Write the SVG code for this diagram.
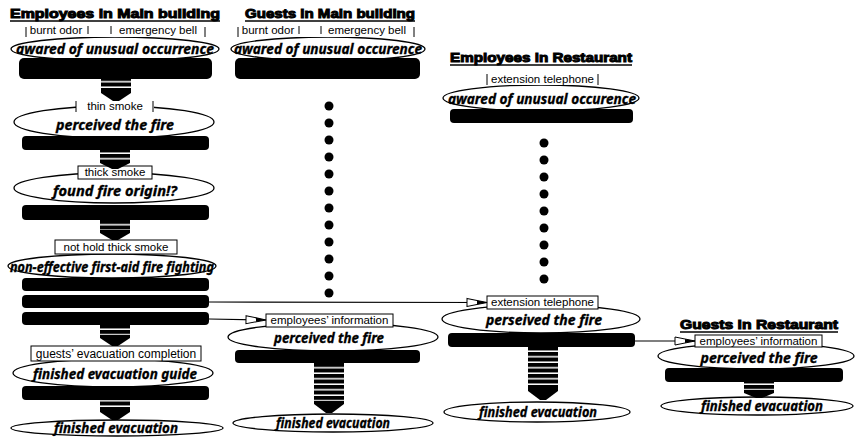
<svg xmlns="http://www.w3.org/2000/svg" width="856" height="438" viewBox="0 0 856 438">
<style>
.t{font-family:"Liberation Sans",Arial,sans-serif;font-weight:900;font-size:13px;fill:#000;stroke:#000;stroke-width:1}
.ul{stroke:#000;stroke-width:1.6}
.e{font-family:"Noto Sans","Open Sans",sans-serif;font-weight:700;font-style:italic;font-size:15px;text-anchor:middle;fill:#000;stroke:#000;stroke-width:0.35}
.l{font-family:"Liberation Sans",Arial,sans-serif;font-size:11.5px;text-anchor:middle;fill:#000}
.el{fill:#fff;stroke:#000;stroke-width:1.3}
.bar{fill:#000}
.box{fill:#fff;stroke:#000;stroke-width:1}
.wb{fill:#fff;stroke:none}
.mk{stroke:#000;stroke-width:1;fill:none}
.stem{fill:url(#stripes)}
.head{fill:#000}
.dot{fill:#000}
.conn{stroke:#000;stroke-width:1.2;fill:none;marker-end:url(#ah)}
</style>
<defs>
<pattern id="stripes" patternUnits="userSpaceOnUse" width="40" height="5.5">
<rect x="0" y="0" width="40" height="4" fill="#000"/>
</pattern>
<marker id="ah" markerUnits="userSpaceOnUse" markerWidth="22" markerHeight="10" refX="21" refY="5" orient="auto">
<path d="M1,1 L21,5 L1,9 Z" fill="#fff" stroke="#000" stroke-width="1"/>
<path d="M11,3 L21,5 L11,7 Z" fill="#000"/>
</marker>
</defs>
<rect width="856" height="438" fill="#fff"/>

<!-- Column 1: Employees in Main building -->
<g id="title-emp-main">
<text class="t" x="10" y="18" textLength="210" lengthAdjust="spacingAndGlyphs">Employees in Main building</text>
<line class="ul" x1="10" y1="21" x2="220" y2="21"/>
</g>
<g id="emp-main-aware">
<ellipse class="el" cx="115" cy="49" rx="104" ry="12"/>
<rect class="bar" x="19" y="58" width="193" height="21" rx="5"/>
<rect class="wb" x="24" y="26" width="180" height="11"/>
<text class="l" x="56" y="34">burnt odor</text>
<text class="l" x="158" y="34">emergency bell</text>
<path class="mk" d="M26,27 V37 M88,26 V34 M111,26 V34 M205,27 V37"/>
<text class="e" x="115" y="54" textLength="198" lengthAdjust="spacingAndGlyphs">awared of unusual occurrence</text>
</g>
<g id="emp-main-perceived">
<ellipse class="el" cx="114" cy="122" rx="100" ry="16"/>
<rect class="bar" x="22" y="136" width="187" height="14" rx="4"/>
<rect class="wb" x="76" y="100" width="78" height="12"/>
<path class="mk" d="M76,101 V112 M153,101 V112"/>
<text class="l" x="115" y="110">thin smoke</text>
<text class="e" x="115" y="130" textLength="118" lengthAdjust="spacingAndGlyphs">perceived the fire</text>
</g>
<g id="emp-main-origin">
<ellipse class="el" cx="114" cy="188" rx="100" ry="15"/>
<rect class="bar" x="22" y="205" width="187" height="15" rx="4"/>
<rect class="box" x="78" y="166" width="74" height="13"/>
<text class="l" x="115" y="176">thick smoke</text>
<text class="e" x="115" y="196" textLength="124" lengthAdjust="spacingAndGlyphs">found fire origin!?</text>
</g>
<g id="emp-main-firefight">
<ellipse class="el" cx="112" cy="266" rx="104" ry="12"/>
<rect class="box" x="55" y="240" width="122" height="14"/>
<text class="l" x="116" y="251">not hold thick smoke</text>
<text class="e" x="112" y="272" textLength="204" lengthAdjust="spacingAndGlyphs">non-effective first-aid fire fighting</text>
<rect class="bar" x="22" y="278" width="187" height="13" rx="4"/>
<rect class="bar" x="22" y="295" width="187" height="13" rx="4"/>
<rect class="bar" x="22" y="312" width="187" height="13" rx="4"/>
</g>
<g id="emp-main-guide">
<ellipse class="el" cx="113" cy="373" rx="100" ry="14"/>
<rect class="bar" x="22" y="386" width="187" height="14" rx="4"/>
<rect class="box" x="31" y="346" width="170" height="15"/>
<text class="l" x="116" y="358" style="font-size:12px">guests’ evacuation completion</text>
<text class="e" x="115" y="379" textLength="164" lengthAdjust="spacingAndGlyphs">finished evacuation guide</text>
</g>
<g id="emp-main-finished">
<ellipse class="el" cx="117" cy="428" rx="106" ry="8"/>
<text class="e" x="116" y="433" textLength="124" lengthAdjust="spacingAndGlyphs">finished evacuation</text>
</g>

<!-- Column 2: Guests in Main building -->
<g id="title-guest-main">
<text class="t" x="245" y="18" textLength="170" lengthAdjust="spacingAndGlyphs">Guests in Main building</text>
<line class="ul" x1="245" y1="21" x2="415" y2="21"/>
</g>
<g id="guest-main-aware">
<ellipse class="el" cx="328" cy="49" rx="97" ry="12"/>
<rect class="bar" x="235" y="58" width="185" height="21" rx="5"/>
<rect class="wb" x="237" y="26" width="178" height="11"/>
<text class="l" x="268" y="34">burnt odor</text>
<text class="l" x="367" y="34">emergency bell</text>
<path class="mk" d="M238,27 V37 M299,26 V34 M321,26 V34 M414,27 V37"/>
<text class="e" x="328" y="54" textLength="188" lengthAdjust="spacingAndGlyphs">awared of unusual occurence</text>
</g>
<g id="guest-main-dots">
<circle class="dot" cx="329" cy="106" r="4.5"/><circle class="dot" cx="329" cy="123" r="4.5"/>
<circle class="dot" cx="329" cy="140" r="4.5"/><circle class="dot" cx="329" cy="157" r="4.5"/>
<circle class="dot" cx="329" cy="174" r="4.5"/><circle class="dot" cx="329" cy="191" r="4.5"/>
<circle class="dot" cx="329" cy="208" r="4.5"/><circle class="dot" cx="329" cy="225" r="4.5"/>
<circle class="dot" cx="329" cy="242" r="4.5"/><circle class="dot" cx="329" cy="259" r="4.5"/>
<circle class="dot" cx="329" cy="276" r="4.5"/><circle class="dot" cx="329" cy="293" r="4.5"/>
</g>
<g id="guest-main-perceived">
<ellipse class="el" cx="333" cy="337" rx="105" ry="14"/>
<rect class="bar" x="235" y="350" width="185" height="13" rx="4"/>
<rect class="box" x="266" y="314" width="127" height="13"/>
<text class="l" x="329.5" y="324">employees’ information</text>
<text class="e" x="329" y="343" textLength="110" lengthAdjust="spacingAndGlyphs">perceived the fire</text>
</g>
<g id="guest-main-finished">
<ellipse class="el" cx="333" cy="423" rx="100" ry="9"/>
<text class="e" x="333" y="428" textLength="114" lengthAdjust="spacingAndGlyphs">finished evacuation</text>
</g>

<!-- Column 3: Employees in Restaurant -->
<g id="title-emp-rest">
<text class="t" x="450" y="62" textLength="182" lengthAdjust="spacingAndGlyphs">Employees in Restaurant</text>
<line class="ul" x1="450" y1="65" x2="632" y2="65"/>
</g>
<g id="emp-rest-aware">
<ellipse class="el" cx="541" cy="98" rx="98" ry="13"/>
<rect class="bar" x="450" y="109" width="183" height="14" rx="4"/>
<rect class="wb" x="487" y="73" width="111" height="12"/>
<path class="mk" d="M487,74 V85 M598,74 V85"/>
<text class="l" x="542.5" y="83">extension telephone</text>
<text class="e" x="542" y="104" textLength="188" lengthAdjust="spacingAndGlyphs">awared of unusual occurence</text>
</g>
<g id="emp-rest-dots">
<circle class="dot" cx="544" cy="143" r="4.5"/><circle class="dot" cx="544" cy="160" r="4.5"/>
<circle class="dot" cx="544" cy="177" r="4.5"/><circle class="dot" cx="544" cy="194" r="4.5"/>
<circle class="dot" cx="544" cy="211" r="4.5"/><circle class="dot" cx="544" cy="228" r="4.5"/>
<circle class="dot" cx="544" cy="245" r="4.5"/><circle class="dot" cx="544" cy="262" r="4.5"/>
<circle class="dot" cx="544" cy="279" r="4.5"/>
</g>
<g id="emp-rest-perceived">
<ellipse class="el" cx="541" cy="319" rx="99" ry="14"/>
<rect class="bar" x="448" y="333" width="187" height="14" rx="4"/>
<rect class="box" x="487" y="296" width="111" height="13"/>
<text class="l" x="542.5" y="306">extension telephone</text>
<text class="e" x="544" y="325" textLength="116" lengthAdjust="spacingAndGlyphs">perseived the fire</text>
</g>
<g id="emp-rest-finished">
<ellipse class="el" cx="537" cy="412" rx="93" ry="10"/>
<text class="e" x="538" y="417" textLength="118" lengthAdjust="spacingAndGlyphs">finished evacuation</text>
</g>

<!-- Column 4: Guests in Restaurant -->
<g id="title-guest-rest">
<text class="t" x="680" y="329" textLength="158" lengthAdjust="spacingAndGlyphs">Guests in Restaurant</text>
<line class="ul" x1="680" y1="332" x2="838" y2="332"/>
</g>
<g id="guest-rest-perceived">
<ellipse class="el" cx="756" cy="356" rx="98" ry="13"/>
<rect class="bar" x="665" y="368" width="178" height="14" rx="4"/>
<rect class="box" x="695" y="335" width="127" height="12"/>
<text class="l" x="758.5" y="345">employees’ information</text>
<text class="e" x="759" y="363" textLength="117" lengthAdjust="spacingAndGlyphs">perceived the fire</text>
</g>
<g id="guest-rest-finished">
<ellipse class="el" cx="757" cy="406" rx="96" ry="9"/>
<text class="e" x="762" y="411" textLength="122" lengthAdjust="spacingAndGlyphs">finished evacuation</text>
</g>

<!-- Connectors -->
<g id="connectors">
<rect class="stem" x="101" y="79" width="30" height="10"/>
<polygon class="head" points="101,89 131,89 131,93 119,101 113,101 101,93"/>
<rect class="stem" x="100" y="150" width="30" height="10"/>
<polygon class="head" points="100,160 130,160 130,163 118,169 112,169 100,163"/>
<rect class="stem" x="100" y="220" width="30" height="10"/>
<polygon class="head" points="100,230 130,230 130,233 118,240 112,240 100,233"/>
<rect class="stem" x="100" y="325" width="30" height="10"/>
<polygon class="head" points="100,335 130,335 130,338 118,346 112,346 100,338"/>
<rect class="stem" x="100" y="400" width="30" height="9"/>
<polygon class="head" points="100,409 130,409 130,412 118,420 112,420 100,412"/>
<rect class="stem" x="314" y="363" width="30" height="38"/>
<polygon class="head" points="314,401 344,401 344,404 332,413 326,413 314,404"/>
<rect class="stem" x="528" y="347" width="30" height="41"/>
<polygon class="head" points="528,388 558,388 558,391 546,400 540,400 528,391"/>
<rect class="stem" x="744" y="382" width="30" height="8"/>
<polygon class="head" points="744,390 774,390 774,393 762,398 756,398 744,393"/>
<line class="conn" x1="209" y1="302" x2="487" y2="302.5"/>
<line class="conn" x1="209" y1="319" x2="266" y2="320"/>
<line class="conn" x1="635" y1="341" x2="695" y2="341"/>
</g>
</svg>
